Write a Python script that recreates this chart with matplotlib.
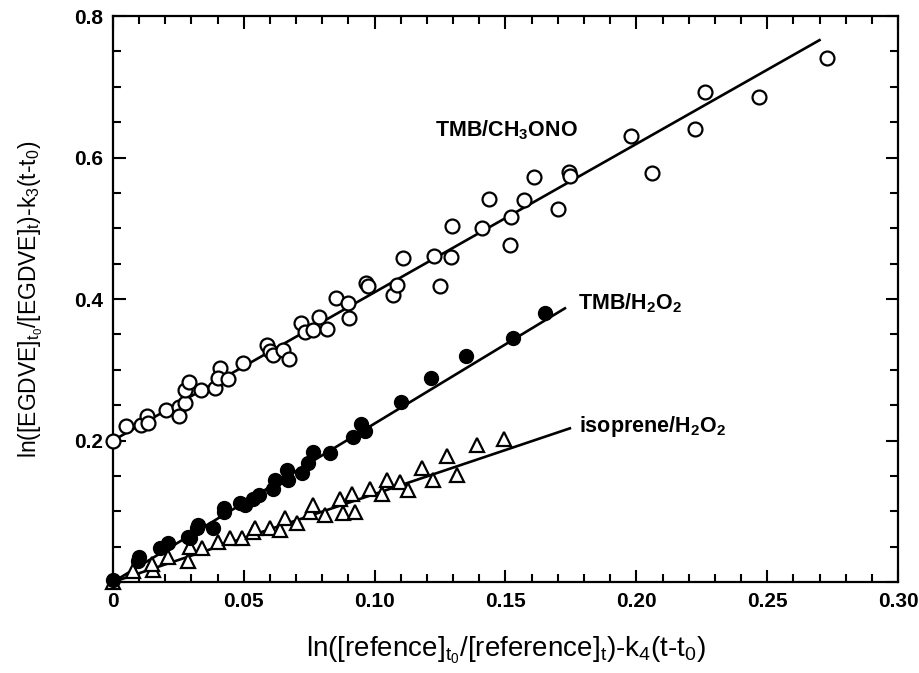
import matplotlib
matplotlib.use('Agg')
import matplotlib.pyplot as plt
import numpy as np
from matplotlib.ticker import MultipleLocator

plt.rcParams['font.family'] = ['Liberation Sans', 'DejaVu Sans']
plt.rcParams['mathtext.fontset'] = 'custom'
plt.rcParams['mathtext.rm'] = 'Liberation Sans'
plt.rcParams['mathtext.it'] = 'Liberation Sans'
plt.rcParams['mathtext.bf'] = 'Liberation Sans:bold'

# TMB/CH3ONO (open circles)
ch3ono_x = [0.000, 0.005, 0.0107, 0.0129, 0.0135, 0.0203, 0.0252, 0.0252, 0.0275, 0.0275,
            0.0292, 0.0336, 0.039, 0.0409, 0.0403, 0.0438, 0.0498, 0.0587, 0.060, 0.061,
            0.0648, 0.0674, 0.0717, 0.0734, 0.0765, 0.0789, 0.0819, 0.0852, 0.0899, 0.0903,
            0.0967, 0.0976, 0.107, 0.1084, 0.111, 0.1227, 0.125, 0.129, 0.1294, 0.1409,
            0.1437, 0.1517, 0.1521, 0.157, 0.1609, 0.1699, 0.1742, 0.1746, 0.198, 0.2058,
            0.2225, 0.2262, 0.247, 0.2727]
ch3ono_y = [0.200, 0.220, 0.222, 0.235, 0.225, 0.243, 0.248, 0.235, 0.253, 0.272,
            0.282, 0.272, 0.274, 0.302, 0.288, 0.287, 0.309, 0.335, 0.327, 0.321,
            0.328, 0.315, 0.366, 0.353, 0.356, 0.375, 0.357, 0.401, 0.394, 0.373,
            0.422, 0.418, 0.406, 0.420, 0.458, 0.461, 0.419, 0.460, 0.503, 0.500,
            0.541, 0.477, 0.516, 0.540, 0.572, 0.527, 0.579, 0.574, 0.631, 0.578,
            0.640, 0.692, 0.685, 0.740]

# TMB/H2O2 (filled circles)
h2o2_x = [0.000, 0.0097, 0.010, 0.018, 0.021, 0.0288, 0.0294, 0.032, 0.0326, 0.0383,
          0.0424, 0.0424, 0.0485, 0.0504, 0.0536, 0.0559, 0.0613, 0.0619, 0.067, 0.0664,
          0.0721, 0.0746, 0.0765, 0.0829, 0.0918, 0.0948, 0.0963, 0.110, 0.1215, 0.1348,
          0.153, 0.1651]
h2o2_y = [0.003, 0.029, 0.036, 0.048, 0.055, 0.064, 0.062, 0.076, 0.081, 0.076,
          0.099, 0.104, 0.111, 0.109, 0.118, 0.123, 0.132, 0.144, 0.144, 0.158,
          0.154, 0.168, 0.184, 0.182, 0.205, 0.223, 0.213, 0.255, 0.288, 0.319,
          0.345, 0.380]

# isoprene/H2O2 (open triangles)
iso_x = [0.000, 0.0076, 0.0154, 0.0148, 0.0211, 0.0288, 0.0294, 0.0339, 0.0402, 0.0447,
         0.0492, 0.0536, 0.0543, 0.060, 0.0638, 0.0657, 0.0702, 0.0753, 0.0765, 0.081,
         0.0867, 0.088, 0.0925, 0.0912, 0.0982, 0.1027, 0.1046, 0.1097, 0.1128, 0.118,
         0.1224, 0.1275, 0.1313, 0.139, 0.1495]
iso_y = [0.000, 0.015, 0.017, 0.026, 0.036, 0.029, 0.050, 0.048, 0.057, 0.062,
         0.062, 0.071, 0.076, 0.076, 0.074, 0.090, 0.083, 0.099, 0.109, 0.095,
         0.118, 0.097, 0.099, 0.125, 0.132, 0.125, 0.144, 0.142, 0.130, 0.161,
         0.144, 0.178, 0.151, 0.193, 0.202]

# fitted lines: slope, intercept, x end
fit_ch3ono = (2.096, 0.200, 0.270)
fit_h2o2 = (2.24, 0.0, 0.1727)
fit_iso = (1.244, 0.0, 0.1746)

fig = plt.figure(figsize=(9.2, 6.73), dpi=100)
ax = fig.add_axes([0.1228, 0.1352, 0.8533, 0.8410])

for s, b, xe in [fit_ch3ono, fit_h2o2, fit_iso]:
    xx = np.array([0.0, xe])
    ax.plot(xx, s * xx + b, color='black', lw=1.9, zorder=2)

ax.plot(ch3ono_x, ch3ono_y, 'o', ms=10, mfc='white', mec='black', mew=1.6, clip_on=False, zorder=3)
ax.plot(iso_x, iso_y, '^', ms=10.5, mfc='white', mec='black', mew=1.6, clip_on=False, zorder=3)
ax.plot(h2o2_x, h2o2_y, 'o', ms=10, mfc='black', mec='black', mew=1.0, clip_on=False, zorder=4)

txt = dict(fontsize=15.5, fontweight='bold', va='center')
ax.text(0.123, 0.639, r'TMB/CH$_\mathbf{3}$ONO', **txt)
ax.text(0.1778, 0.394, r'TMB/H$_\mathbf{2}$O$_\mathbf{2}$', **txt)
ax.text(0.1782, 0.2195, r'isoprene/H$_\mathbf{2}$O$_\mathbf{2}$', **txt)

ax.set_xlim(0, 0.30)
ax.set_ylim(0, 0.8)
ax.set_xticks([0, 0.05, 0.10, 0.15, 0.20, 0.25, 0.30])
ax.set_xticklabels(['0', '0.05', '0.10', '0.15', '0.20', '0.25', '0.30'])
ax.set_yticks([0, 0.2, 0.4, 0.6, 0.8])
ax.set_yticklabels(['', '0.2', '0.4', '0.6', '0.8'])
ax.xaxis.set_minor_locator(MultipleLocator(0.01))
ax.yaxis.set_minor_locator(MultipleLocator(0.05))
ax.tick_params(which='both', direction='in', top=True, right=True, width=1.5)
ax.tick_params(which='major', length=9, labelsize=15, pad=7)
ax.tick_params(which='minor', length=5.5)
for lab in ax.get_xticklabels() + ax.get_yticklabels():
    lab.set_fontweight('bold')
for sp in ax.spines.values():
    sp.set_linewidth(1.6)

ax.set_xlabel(r'ln([refence]$_{\mathregular{t_0}}$/[reference]$_\mathregular{t}$)-k$_\mathregular{4}$(t-t$_\mathregular{0}$)',
              fontsize=20, labelpad=17)
ax.set_ylabel(r'ln([EGDVE]$_{\mathregular{t_0}}$/[EGDVE]$_\mathregular{t}$)-k$_\mathregular{3}$(t-t$_\mathregular{0}$)',
              fontsize=16.5, labelpad=21)

fig.savefig('out.png', dpi=100)
